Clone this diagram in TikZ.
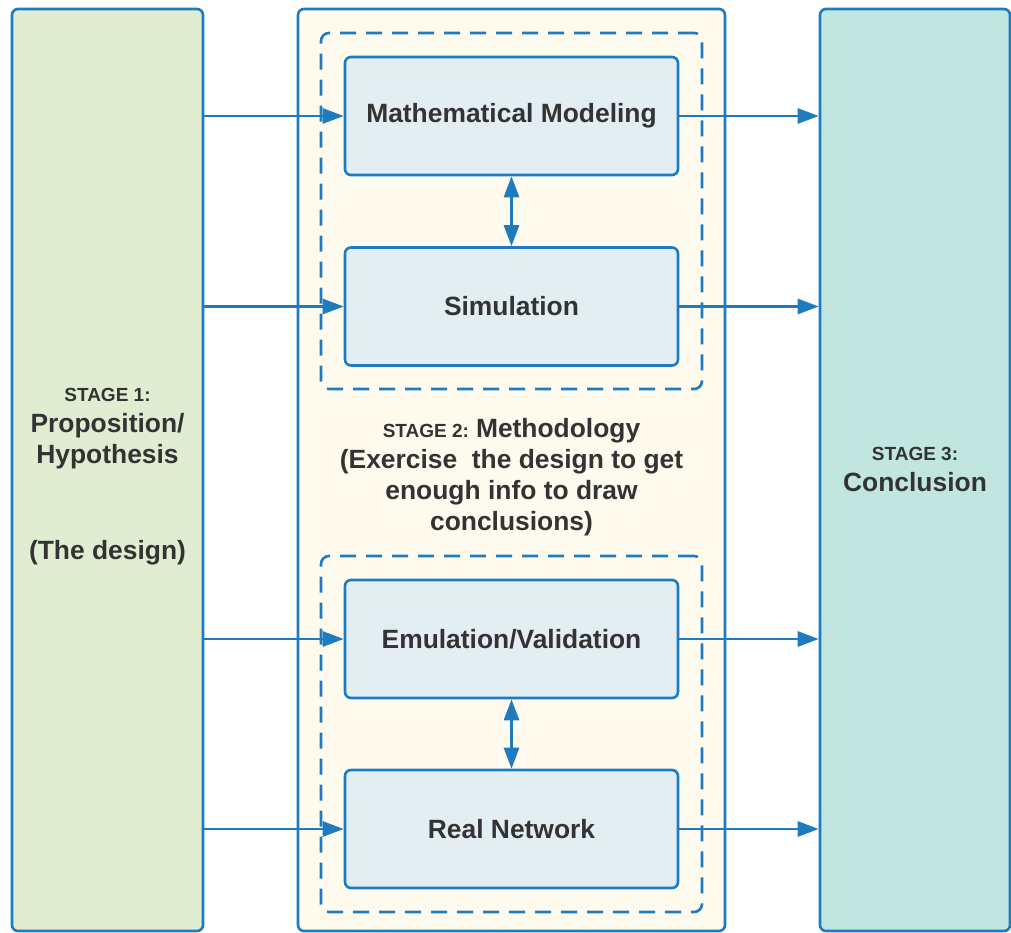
\documentclass[tikz,border=0pt]{standalone}
\usepackage{fontspec}
\setmainfont{Liberation Sans}
\usetikzlibrary{arrows.meta}
\definecolor{lineblue}{HTML}{1E7BC0}
\definecolor{stagegreen}{HTML}{E0EDD3}
\definecolor{stagecream}{HTML}{FEFBEE}
\definecolor{stageteal}{HTML}{C1E6DF}
\definecolor{boxblue}{HTML}{E2EEF1}
\definecolor{txtgray}{HTML}{333333}
\newcommand*{\bigtxt}{\fontsize{26.4}{31}\selectfont\bfseries}
\newcommand*{\smalltxt}{\fontsize{19}{31}\selectfont\bfseries}

\tikzset{
  stagebox/.style={draw=lineblue, line width=2.6pt, rounded corners=6pt, inner sep=0pt},
  dashbox/.style={draw=lineblue, line width=2.6pt, rounded corners=8pt, dash pattern=on 16pt off 10pt, inner sep=0pt,
    minimum width=381pt, minimum height=356pt},
  methodbox/.style={draw=lineblue, line width=2.6pt, rounded corners=6pt, fill=boxblue, inner sep=0pt,
    minimum width=333pt, minimum height=118pt, font=\bigtxt, text=txtgray},
  label/.style={align=center, font=\bigtxt, text=txtgray, inner sep=0pt},
  arr/.style={draw=lineblue, line width=2.8pt, -{Triangle[length=21pt,width=15pt]}},
  arrboth/.style={draw=lineblue, line width=2.8pt, {Triangle[length=21pt,width=15pt]}-{Triangle[length=21pt,width=15pt]}}
}

\begin{document}
\begin{tikzpicture}[x=1pt, y=-1pt]
		\useasboundingbox (0,0) rectangle (1011,933);

		% the three stages
		\node[stagebox, fill=stagegreen, minimum width=191pt, minimum height=922pt] (stageone) at (107.5,470) {};
		\node[stagebox, fill=stagecream, minimum width=427pt, minimum height=922pt] (stagetwo) at (511.5,470) {};
		\node[stagebox, fill=stageteal, minimum width=190pt, minimum height=922pt] (stagethree) at (915,470) {};

		% dashed groups
		\node[dashbox] (groupA) at (511.5,211) {};
		\node[dashbox] (groupB) at (511.5,734) {};

		% methods
		\node[methodbox] (math) at (511.5,116) {Mathematical Modeling};
		\node[methodbox] (sim) at (511.5,306.5) {Simulation};
		\node[methodbox] (emu) at (511.5,639) {Emulation/Validation};
		\node[methodbox] (real) at (511.5,829) {Real Network};

		% texts
		\node[label, anchor=north] (oneText) at (107.5,388)
		{{\smalltxt STAGE 1:}\\Proposition/\\Hypothesis\\[65pt](The design)};
		\node[label, anchor=north] (twoText) at (511.5,418)
		{{\smalltxt STAGE 2: }Methodology\\(Exercise\ \ the design to get\\enough info to draw\\conclusions)};
		\node[label, anchor=north] (threeText) at (915,447)
		{{\smalltxt STAGE 3:}\\Conclusion};

		% arrows in
		\foreach \m in {math, sim, emu, real}
		  \draw[arr] (stageone.east |- \m.west) -- (\m.west);
		% arrows out
		\foreach \m in {math, sim, emu, real}
		  \draw[arr] (\m.east) -- (\m.east -| stagethree.west);

		\draw[arrboth] (math.south) -- (sim.north);
		\draw[arrboth] (emu.south) -- (real.north);
\end{tikzpicture}
\end{document}
